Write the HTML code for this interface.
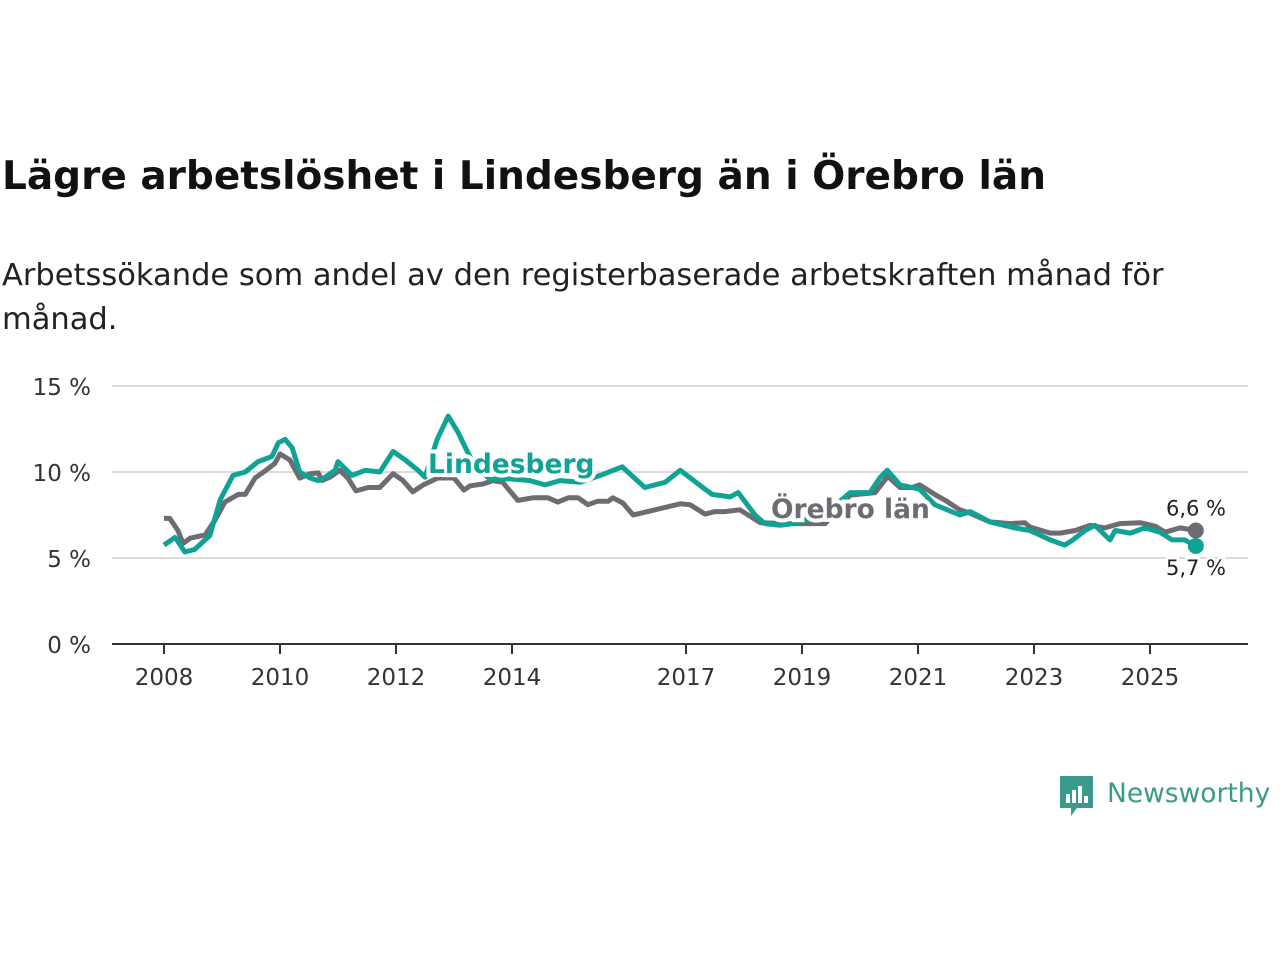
<!DOCTYPE html>
<html><head><meta charset="utf-8">
<style>
body{margin:0;background:#fff;width:1280px;height:960px;overflow:hidden;font-family:"DejaVu Sans",sans-serif;}
#title{position:absolute;left:2px;top:154px;font-size:39px;font-weight:bold;color:#111;white-space:nowrap}
#sub{position:absolute;left:2px;top:254px;font-size:30.5px;line-height:44px;color:#222;white-space:nowrap}
svg{position:absolute;left:0;top:0}
</style></head><body>
<div id="title">Lägre arbetslöshet i Lindesberg än i Örebro län</div>
<div id="sub">Arbetssökande som andel av den registerbaserade arbetskraften månad för<br>månad.</div>
<svg id="chart" width="1280" height="960"></svg>
<script>
const yTicks=[0,5,10,15];
const yTickLabels=["0 %","5 %","10 %","15 %"];
const xTicks=[2008,2010,2012,2014,2017,2019,2021,2023,2025];
const lindYears=[2008.0,2008.19,2008.36,2008.53,2008.79,2008.97,2009.19,2009.4,2009.62,2009.86,2009.97,2010.09,2010.21,2010.34,2010.52,2010.66,2010.78,2010.95,2011.0,2011.24,2011.47,2011.72,2011.95,2012.16,2012.38,2012.5,2012.71,2012.9,2013.07,2013.17,2013.36,2013.62,2013.97,2014.31,2014.57,2014.83,2015.17,2015.52,2015.9,2016.29,2016.64,2016.9,2017.33,2017.45,2017.76,2017.9,2018.19,2018.36,2018.62,2018.84,2019.14,2019.48,2019.83,2020.17,2020.34,2020.47,2020.69,2021.03,2021.29,2021.72,2021.9,2022.24,2022.67,2022.93,2023.28,2023.53,2023.67,2023.88,2024.05,2024.31,2024.4,2024.66,2024.91,2025.17,2025.38,2025.6,2025.79];
const lindValues=[5.75,6.2,5.35,5.5,6.3,8.4,9.8,10.0,10.6,10.9,11.7,11.9,11.4,10.0,9.65,9.5,9.7,10.1,10.6,9.8,10.1,10.0,11.2,10.7,10.1,9.7,11.9,13.25,12.3,11.6,10.3,9.6,9.6,9.5,9.25,9.5,9.4,9.8,10.3,9.1,9.4,10.1,9.0,8.7,8.55,8.8,7.5,7.0,6.9,7.0,7.3,7.8,8.8,8.8,9.65,10.1,9.25,9.0,8.1,7.5,7.7,7.1,6.75,6.6,6.05,5.75,6.05,6.6,6.9,6.05,6.6,6.45,6.75,6.5,6.05,6.05,5.7];
const oreYears=[2008.0,2008.1,2008.24,2008.33,2008.45,2008.71,2008.88,2009.05,2009.28,2009.4,2009.57,2009.74,2009.91,2010.0,2010.17,2010.34,2010.52,2010.66,2010.72,2010.86,2011.03,2011.17,2011.31,2011.52,2011.72,2011.95,2012.12,2012.29,2012.47,2012.72,2013.0,2013.17,2013.28,2013.5,2013.67,2013.84,2014.1,2014.36,2014.62,2014.79,2014.97,2015.14,2015.31,2015.48,2015.66,2015.74,2015.91,2016.09,2016.34,2016.9,2017.07,2017.33,2017.5,2017.67,2017.93,2018.28,2018.79,2019.12,2019.4,2019.83,2020.26,2020.48,2020.69,2020.9,2021.03,2021.29,2021.47,2021.72,2021.9,2022.24,2022.59,2022.84,2022.93,2023.28,2023.45,2023.71,2023.97,2024.22,2024.48,2024.83,2025.09,2025.26,2025.52,2025.79];
const oreValues=[7.3,7.3,6.6,5.85,6.15,6.35,7.2,8.25,8.7,8.7,9.65,10.05,10.5,11.05,10.7,9.65,9.9,9.95,9.5,9.7,10.1,9.65,8.9,9.1,9.1,9.9,9.5,8.85,9.25,9.65,9.65,8.95,9.2,9.3,9.5,9.4,8.35,8.5,8.5,8.25,8.5,8.5,8.1,8.3,8.3,8.5,8.2,7.5,7.7,8.15,8.1,7.55,7.7,7.7,7.8,7.05,7.0,7.0,7.0,8.65,8.8,9.75,9.1,9.1,9.25,8.7,8.35,7.8,7.6,7.1,7.0,7.05,6.8,6.45,6.45,6.6,6.9,6.75,7.0,7.05,6.85,6.5,6.75,6.6];
const NS="http://www.w3.org/2000/svg";
const FONT='DejaVu Sans, sans-serif';
const svg=document.getElementById('chart');
const X=y=>164+(y-2008)*58;
const Y=v=>644-v*17.2;
function mk(tag,attrs,parent){const e=document.createElementNS(NS,tag);for(const k in attrs)e.setAttribute(k,attrs[k]);(parent||svg).appendChild(e);return e;}
yTicks.forEach((t,i)=>{
  if(t>0){const g=mk('line',{x1:112,x2:1248,y1:Y(t),y2:Y(t),stroke:'#dcdcdc','stroke-width':2});
  
  }
  const l=mk('text',{x:91,y:Y(t)+9,'text-anchor':'end','font-size':23,fill:'#333','font-family':FONT});
  l.textContent=yTickLabels[i];
  
  
});
const ax=mk('line',{x1:112,x2:1248,y1:644,y2:644,stroke:'#333','stroke-width':2});


xTicks.forEach(t=>{
  const tk=mk('line',{x1:X(t),x2:X(t),y1:644,y2:654,stroke:'#333','stroke-width':2});
  
  
  const l=mk('text',{x:X(t),y:685,'text-anchor':'middle','font-size':23,fill:'#333','font-family':FONT});
  l.textContent=t;
  
  
});
function line(ys,vs,color,name){
  const d=ys.map((y,i)=>(i?'L':'M')+X(y).toFixed(1)+','+Y(vs[i]).toFixed(1)).join(' ');
  const p=mk('path',{d:d,fill:'none',stroke:color,'stroke-width':5,'stroke-linejoin':'round'});
  
  
  const n=ys.length-1;
  const c=mk('circle',{cx:X(ys[n]),cy:Y(vs[n]),r:8,fill:color});
  
  
}
line(oreYears,oreValues,'#6d6c72','orebro-line');
line(lindYears,lindValues,'#0fa396','lindesberg-line');
function lab(x,y,txt,color,name,bold,anchor,size){
  const t=mk('text',{x:x,y:y,'font-size':size,'font-weight':bold?'bold':'normal',fill:color,stroke:'#fff','stroke-width':bold?8:5,'paint-order':'stroke','text-anchor':anchor,'font-family':FONT});
  t.textContent=txt;
  
  
}
lab(428,473,'Lindesberg','#0fa396','lindesberg-label',true,'start',26.5);
lab(771,518,'Örebro län','#6d6c72','orebro-label',true,'start',26.5);
const nO=oreValues.length-1,nL=lindValues.length-1;
lab(1196,Y(oreValues[nO])-15,String(oreValues[nO]).replace('.',',')+' %','#222','orebro-end-value',false,'middle',21);
lab(1196,Y(lindValues[nL])+29,String(lindValues[nL]).replace('.',',')+' %','#222','lindesberg-end-value',false,'middle',21);
const g=mk('g',{});


mk('path',{d:'M1060,776 h33 v32 h-16 l-6,8 v-8 h-11 z',fill:'#3a9a8c'},g);
[[1066,794,4,9],[1072,790,4,13],[1078,786,4,17],[1084,796,4,7]].forEach(r=>mk('rect',{x:r[0],y:r[1],width:r[2],height:r[3],fill:'#fff'},g));
const lt=mk('text',{x:1107,y:802,'font-size':26.5,fill:'#3a9a8c','font-family':FONT},g);
lt.textContent='Newsworthy';
</script>
</body></html>
